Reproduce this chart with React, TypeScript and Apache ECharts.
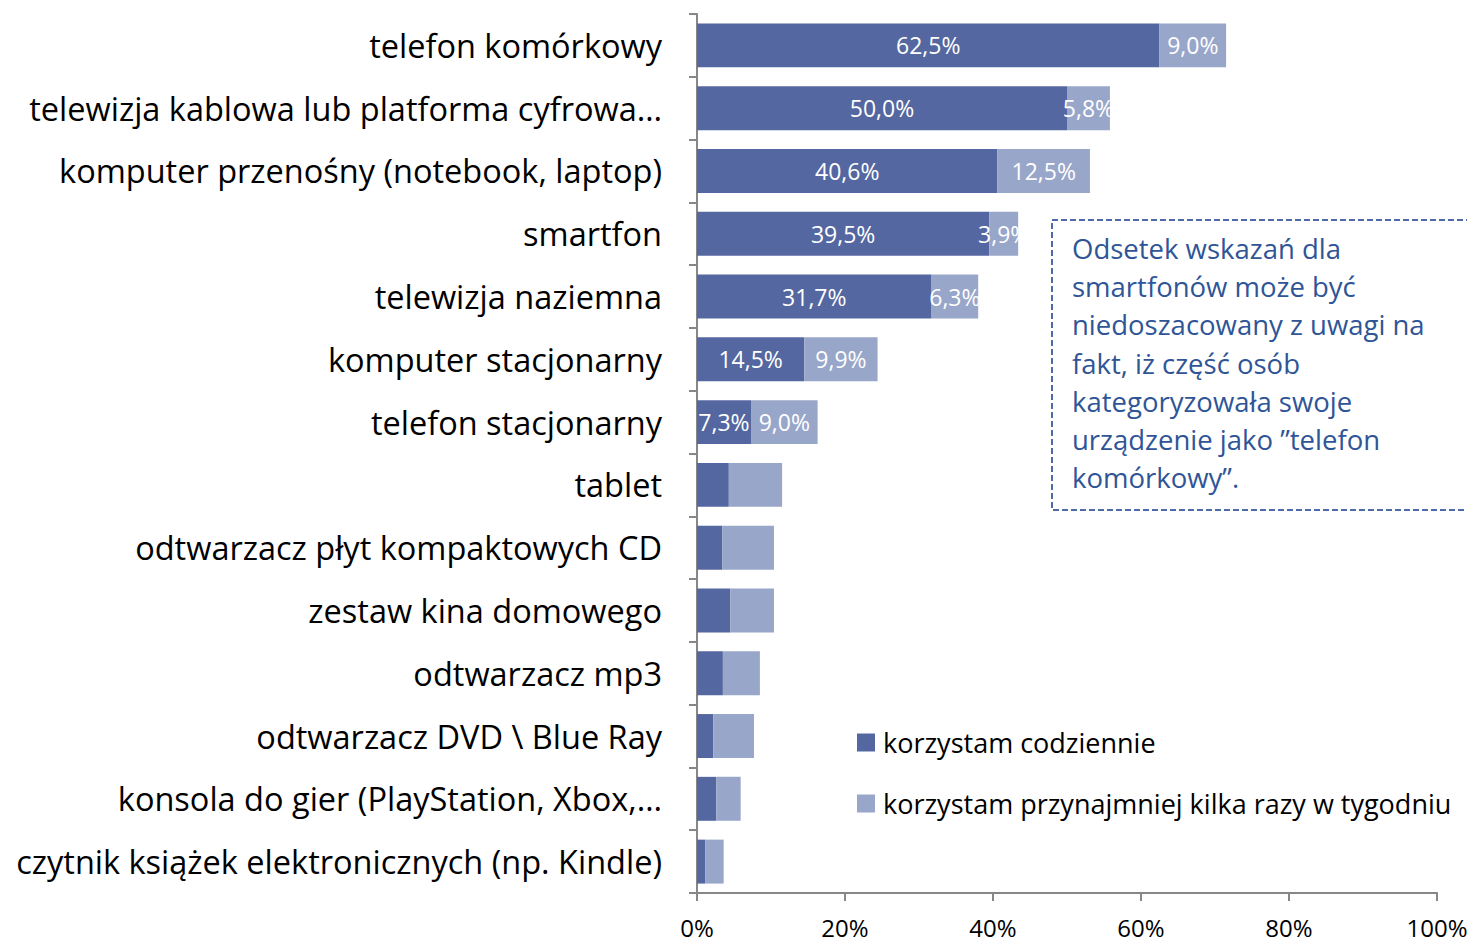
import React, { useEffect, useRef } from "react";
import * as echarts from "echarts";

const categories = [
  "telefon komórkowy",
  "telewizja kablowa lub platforma cyfrowa…",
  "komputer przenośny (notebook, laptop)",
  "smartfon",
  "telewizja naziemna",
  "komputer stacjonarny",
  "telefon stacjonarny",
  "tablet",
  "odtwarzacz płyt kompaktowych CD",
  "zestaw kina domowego",
  "odtwarzacz mp3",
  "odtwarzacz DVD \\ Blue Ray",
  "konsola do gier (PlayStation, Xbox,…",
  "czytnik książek elektronicznych (np. Kindle)",
];

const daily = [62.5, 50.0, 40.6, 39.5, 31.7, 14.5, 7.3, 4.3, 3.4, 4.5, 3.5, 2.2, 2.6, 1.1];
const weekly = [9.0, 5.8, 12.5, 3.9, 6.3, 9.9, 9.0, 7.2, 7.0, 5.9, 5.0, 5.5, 3.3, 2.5];

const seriesNames = ["korzystam codziennie", "korzystam przynajmniej kilka razy w tygodniu"];
const xTicks = [0, 20, 40, 60, 80, 100];
const labeledCount = 7;

const noteLines = [
  "Odsetek wskazań dla",
  "smartfonów może być",
  "niedoszacowany z uwagi na",
  "fakt, iż część osób",
  "kategoryzowała swoje",
  "urządzenie jako ”telefon",
  "komórkowy”.",
];

const FONT = "'Open Sans', 'Noto Sans', sans-serif";
const fmt = (v: number) => v.toFixed(1).replace(".", ",") + "%";

export default function App() {
  const ref = useRef<HTMLDivElement>(null);
  useEffect(() => {
    if (!ref.current) return;
    const chart = echarts.init(ref.current, null, { renderer: "svg" });
    const label = {
      show: true,
      position: "inside" as const,
      color: "#ffffff",
      fontSize: 23,
      fontFamily: FONT,
      formatter: (p: any) => (p.dataIndex < labeledCount ? fmt(p.value) : ""),
    };
    chart.setOption({
      animation: false,
      textStyle: { fontFamily: FONT },
      grid: { left: 697, right: 38, top: 14, bottom: 52, containLabel: false },
      xAxis: {
        type: "value",
        min: xTicks[0],
        max: xTicks[xTicks.length - 1],
        interval: 20,
        axisLine: { show: true, lineStyle: { color: "#878787", width: 2 } },
        axisTick: { show: true, length: 8, lineStyle: { color: "#878787", width: 2 } },
        splitLine: { show: false },
        axisLabel: {
          color: "#000",
          fontSize: 24,
          fontFamily: FONT,
          margin: 22,
          formatter: (v: number) => v + "%",
        },
      },
      yAxis: {
        type: "category",
        data: categories,
        inverse: true,
        axisLine: { show: true, lineStyle: { color: "#878787", width: 2 } },
        axisTick: { show: true, length: 8, lineStyle: { color: "#878787", width: 2 } },
        axisLabel: { color: "#000", fontSize: 32.5, fontFamily: FONT, margin: 35 },
      },
      legend: {
        orient: "vertical",
        left: 852,
        top: 724,
        itemGap: 34,
        itemWidth: 18,
        itemHeight: 18,
        icon: "rect",
        textStyle: { color: "#000", fontSize: 27, fontFamily: FONT, padding: [0, 0, 0, 3] },
        data: seriesNames,
      },
      series: [
        {
          name: seriesNames[0],
          type: "bar",
          stack: "total",
          data: daily,
          barCategoryGap: "30%",
          itemStyle: { color: "#5467a0" },
          label,
        },
        {
          name: seriesNames[1],
          type: "bar",
          stack: "total",
          data: weekly,
          itemStyle: { color: "#98a6c9" },
          label,
        },
      ],
      graphic: [
        {
          type: "rect",
          shape: { x: 1052, y: 220, width: 421, height: 290 },
          style: { fill: "none", stroke: "#4f6aa8", lineWidth: 2, lineDash: [6, 3] },
        },
        {
          type: "text",
          x: 1072,
          y: 229,
          style: {
            text: noteLines.join("\n"),
            fill: "#2f5597",
            fontSize: 27.5,
            fontFamily: FONT,
            lineHeight: 38.3,
          },
        },
      ],
    });
    return () => chart.dispose();
  }, []);
  return <div ref={ref} style={{ width: 1475, height: 945, margin: -8 }} />;
}
